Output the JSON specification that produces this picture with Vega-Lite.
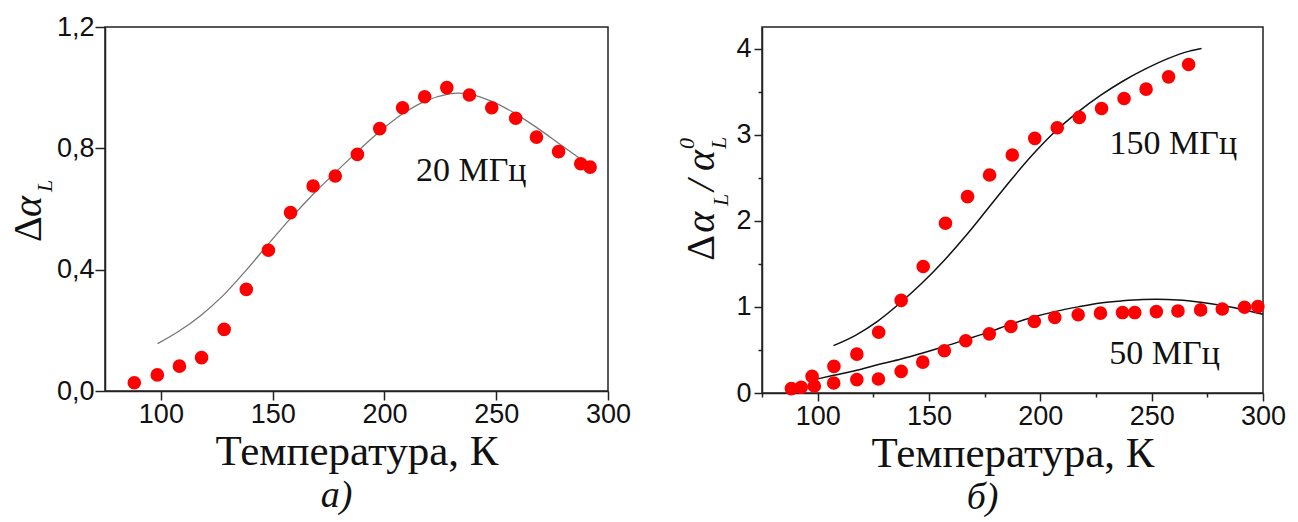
{
  "$schema": "https://vega.github.io/schema/vega-lite/v6.json",
  "autosize": {"type": "pad"},
  "padding": {"left": 8, "top": 12, "right": 0, "bottom": 0},
  "background": "white",
  "spacing": 154,
  "bounds": "flush",
  "config": {
    "view": {"stroke": "#222", "strokeWidth": 1.5},
    "axis": {
      "grid": false,
      "domainColor": "#222", "domainWidth": 1.5,
      "tickColor": "#222", "tickWidth": 1.5,
      "labelFont": "Liberation Sans", "labelFontSize": 27, "labelColor": "#111",
      "labelFlush": false, "labelOverlap": false,
      "titleFont": "Liberation Serif", "titleFontSize": 43, "titleFontWeight": "normal", "titleColor": "#111"
    },
    "title": {"font": "Liberation Serif", "fontStyle": "italic", "fontSize": 38, "fontWeight": "normal", "color": "#111"}
  },
  "datasets": {
    "left_pts": [
      {"T": 88.1, "v": 0.027}, {"T": 98.4, "v": 0.053}, {"T": 108.3, "v": 0.082}, {"T": 118.2, "v": 0.110},
      {"T": 128.3, "v": 0.203}, {"T": 138.2, "v": 0.335}, {"T": 148.1, "v": 0.464}, {"T": 158.0, "v": 0.588},
      {"T": 168.1, "v": 0.676}, {"T": 178.0, "v": 0.709}, {"T": 187.9, "v": 0.780}, {"T": 197.9, "v": 0.865},
      {"T": 208.1, "v": 0.934}, {"T": 218.0, "v": 0.970}, {"T": 227.9, "v": 1.000}, {"T": 238.0, "v": 0.976},
      {"T": 248.0, "v": 0.934}, {"T": 258.7, "v": 0.899}, {"T": 268.0, "v": 0.837}, {"T": 277.9, "v": 0.789},
      {"T": 287.8, "v": 0.749}, {"T": 292.0, "v": 0.738}
    ],
    "left_fit": [
      {"T": 98.5, "v": 0.156}, {"T": 108, "v": 0.197}, {"T": 118, "v": 0.25}, {"T": 128, "v": 0.316},
      {"T": 138, "v": 0.397}, {"T": 148, "v": 0.484}, {"T": 158, "v": 0.569}, {"T": 168, "v": 0.648},
      {"T": 178, "v": 0.72}, {"T": 188, "v": 0.79}, {"T": 198, "v": 0.856}, {"T": 208, "v": 0.913},
      {"T": 218, "v": 0.955}, {"T": 228, "v": 0.978}, {"T": 233, "v": 0.982}, {"T": 238, "v": 0.979},
      {"T": 248, "v": 0.955}, {"T": 258, "v": 0.917}, {"T": 268, "v": 0.869}, {"T": 278, "v": 0.816},
      {"T": 288, "v": 0.763}, {"T": 292, "v": 0.74}
    ],
    "right_pts": [
      {"s": "150", "T": 97.5, "v": 0.193}, {"s": "150", "T": 107.3, "v": 0.309}, {"s": "150", "T": 117.6, "v": 0.451},
      {"s": "150", "T": 127.4, "v": 0.705}, {"s": "150", "T": 137.5, "v": 1.075}, {"s": "150", "T": 147.4, "v": 1.469},
      {"s": "150", "T": 157.4, "v": 1.971}, {"s": "150", "T": 167.3, "v": 2.280}, {"s": "150", "T": 177.2, "v": 2.531},
      {"s": "150", "T": 187.4, "v": 2.763}, {"s": "150", "T": 197.5, "v": 2.957}, {"s": "150", "T": 207.6, "v": 3.080},
      {"s": "150", "T": 217.5, "v": 3.200}, {"s": "150", "T": 227.5, "v": 3.304}, {"s": "150", "T": 237.6, "v": 3.420},
      {"s": "150", "T": 247.5, "v": 3.528}, {"s": "150", "T": 257.6, "v": 3.671}, {"s": "150", "T": 266.6, "v": 3.815},
      {"s": "50", "T": 88.2, "v": 0.051}, {"s": "50", "T": 92.6, "v": 0.066}, {"s": "50", "T": 98.5, "v": 0.081},
      {"s": "50", "T": 107.2, "v": 0.116}, {"s": "50", "T": 117.6, "v": 0.155}, {"s": "50", "T": 127.3, "v": 0.163},
      {"s": "50", "T": 137.5, "v": 0.251}, {"s": "50", "T": 147.2, "v": 0.358}, {"s": "50", "T": 156.9, "v": 0.490},
      {"s": "50", "T": 166.5, "v": 0.606}, {"s": "50", "T": 177.1, "v": 0.687}, {"s": "50", "T": 186.8, "v": 0.772},
      {"s": "50", "T": 197.3, "v": 0.830}, {"s": "50", "T": 206.5, "v": 0.877}, {"s": "50", "T": 217.0, "v": 0.908},
      {"s": "50", "T": 227.0, "v": 0.927}, {"s": "50", "T": 236.9, "v": 0.934}, {"s": "50", "T": 242.4, "v": 0.934},
      {"s": "50", "T": 252.1, "v": 0.945}, {"s": "50", "T": 261.8, "v": 0.953}, {"s": "50", "T": 272.0, "v": 0.965},
      {"s": "50", "T": 281.7, "v": 0.976}, {"s": "50", "T": 291.7, "v": 0.995}, {"s": "50", "T": 297.7, "v": 1.003}
    ],
    "right_fit": [
      {"s": "150", "T": 107.1, "v": 0.55}, {"s": "150", "T": 117, "v": 0.67}, {"s": "150", "T": 127, "v": 0.835},
      {"s": "150", "T": 137, "v": 1.045}, {"s": "150", "T": 147, "v": 1.28}, {"s": "150", "T": 157, "v": 1.545},
      {"s": "150", "T": 167, "v": 1.84}, {"s": "150", "T": 177, "v": 2.16}, {"s": "150", "T": 187, "v": 2.48},
      {"s": "150", "T": 197, "v": 2.78}, {"s": "150", "T": 207, "v": 3.045}, {"s": "150", "T": 217, "v": 3.265},
      {"s": "150", "T": 227, "v": 3.455}, {"s": "150", "T": 237, "v": 3.62}, {"s": "150", "T": 247, "v": 3.76},
      {"s": "150", "T": 257, "v": 3.88}, {"s": "150", "T": 267, "v": 3.97}, {"s": "150", "T": 272.4, "v": 4.0},
      {"s": "50", "T": 98.5, "v": 0.155}, {"s": "50", "T": 107.2, "v": 0.205}, {"s": "50", "T": 117.6, "v": 0.265},
      {"s": "50", "T": 127.3, "v": 0.33}, {"s": "50", "T": 137.5, "v": 0.395}, {"s": "50", "T": 147.2, "v": 0.465},
      {"s": "50", "T": 156.9, "v": 0.54}, {"s": "50", "T": 166.5, "v": 0.62}, {"s": "50", "T": 177.1, "v": 0.71},
      {"s": "50", "T": 186.8, "v": 0.80}, {"s": "50", "T": 197.3, "v": 0.885}, {"s": "50", "T": 206.5, "v": 0.945},
      {"s": "50", "T": 217, "v": 1.0}, {"s": "50", "T": 227, "v": 1.045}, {"s": "50", "T": 236.9, "v": 1.07},
      {"s": "50", "T": 246, "v": 1.085}, {"s": "50", "T": 252.1, "v": 1.088}, {"s": "50", "T": 261.8, "v": 1.08},
      {"s": "50", "T": 272, "v": 1.053}, {"s": "50", "T": 281.7, "v": 1.015}, {"s": "50", "T": 291.7, "v": 0.965},
      {"s": "50", "T": 300, "v": 0.915}
    ]
  },
  "hconcat": [
    {
      "width": 503,
      "height": 364,
      "title": {"text": "а)", "orient": "bottom", "anchor": "middle", "frame": "group", "dx": -20, "offset": 4},
      "encoding": {
        "x": {
          "field": "T", "type": "quantitative",
          "scale": {"domain": [75, 300], "nice": false, "zero": false},
          "axis": {"values": [100, 150, 200, 250, 300], "title": "Температура, К", "tickSize": 9, "labelPadding": 1, "titlePadding": 3}
        },
        "y": {
          "field": "v", "type": "quantitative",
          "scale": {"domain": [0, 1.2], "nice": false},
          "axis": {"values": [0, 0.4, 0.8, 1.2], "labelExpr": "replace(format(datum.value, '.1f'), '.', ',')", "title": null, "tickSize": 10, "labelPadding": 1}
        }
      },
      "layer": [
        {"data": {"name": "left_fit"}, "mark": {"type": "line", "color": "#777", "strokeWidth": 1.3, "interpolate": "monotone"}},
        {"data": {"name": "left_pts"}, "mark": {"type": "circle", "color": "#ff0000", "size": 185, "opacity": 1}},
        {
          "data": {"values": [{"t": "20 МГц", "T": 214.1, "v": 0.692}]},
          "mark": {"type": "text", "font": "Liberation Serif", "fontSize": 34, "align": "left", "baseline": "alphabetic", "color": "#111"},
          "encoding": {"text": {"field": "t"}}
        },
        {
          "data": {"values": [{"t": "Δ", "T": 46.4, "v": 0.491}]},
          "mark": {"type": "text", "font": "Liberation Serif", "fontSize": 40, "angle": 270, "align": "left", "baseline": "alphabetic", "color": "#111"},
          "encoding": {"text": {"field": "t"}}
        },
        {
          "data": {"values": [{"t": "α", "T": 46.4, "v": 0.574}]},
          "mark": {"type": "text", "font": "Liberation Serif", "fontStyle": "italic", "fontSize": 40, "angle": 270, "align": "left", "baseline": "alphabetic", "color": "#111"},
          "encoding": {"text": {"field": "t"}}
        },
        {
          "data": {"values": [{"t": "L", "T": 51.3, "v": 0.656}]},
          "mark": {"type": "text", "font": "Liberation Serif", "fontStyle": "italic", "fontSize": 22, "angle": 270, "align": "left", "baseline": "alphabetic", "color": "#111"},
          "encoding": {"text": {"field": "t"}}
        }
      ]
    },
    {
      "width": 501,
      "height": 366,
      "title": {"text": "б)", "orient": "bottom", "anchor": "middle", "frame": "group", "dx": -30, "offset": 4},
      "encoding": {
        "x": {
          "field": "T", "type": "quantitative",
          "scale": {"domain": [75, 300], "nice": false, "zero": false},
          "axis": {
            "values": [75, 100, 125, 150, 175, 200, 225, 250, 275, 300],
            "labelExpr": "datum.value % 50 === 0 ? format(datum.value, 'd') : ''",
            "tickSize": {"condition": {"test": "datum.value % 50 !== 0", "value": 4}, "value": 8},
            "title": "Температура, К", "labelPadding": 2, "titlePadding": 3
          }
        },
        "y": {
          "field": "v", "type": "quantitative",
          "scale": {"domain": [0, 4.25], "nice": false},
          "axis": {
            "values": [0, 0.5, 1, 1.5, 2, 2.5, 3, 3.5, 4],
            "labelExpr": "datum.value % 1 === 0 ? format(datum.value, 'd') : ''",
            "tickSize": {"condition": {"test": "datum.value % 1 !== 0", "value": 4}, "value": 8},
            "title": null, "labelPadding": 3
          }
        }
      },
      "layer": [
        {"data": {"name": "right_fit"}, "mark": {"type": "line", "color": "#111", "strokeWidth": 1.5, "interpolate": "monotone"}, "encoding": {"detail": {"field": "s"}}},
        {"data": {"name": "right_pts"}, "mark": {"type": "circle", "color": "#ff0000", "size": 185, "opacity": 1}},
        {
          "data": {"values": [{"t": "150 МГц", "T": 231.1, "v": 2.778}, {"t": "50 МГц", "T": 231.0, "v": 0.336}]},
          "mark": {"type": "text", "font": "Liberation Serif", "fontSize": 34, "align": "left", "baseline": "alphabetic", "color": "#111"},
          "encoding": {"text": {"field": "t"}}
        },
        {
          "data": {"values": [{"t": "Δ", "T": 53.6, "v": 1.536}]},
          "mark": {"type": "text", "font": "Liberation Serif", "fontSize": 40, "angle": 270, "align": "left", "baseline": "alphabetic", "color": "#111"},
          "encoding": {"text": {"field": "t"}}
        },
        {
          "data": {"values": [{"t": "α", "T": 53.6, "v": 1.86}, {"t": "/", "T": 53.6, "v": 2.346}, {"t": "α", "T": 53.6, "v": 2.578}]},
          "mark": {"type": "text", "font": "Liberation Serif", "fontStyle": "italic", "fontSize": 40, "angle": 270, "align": "left", "baseline": "alphabetic", "color": "#111"},
          "encoding": {"text": {"field": "t"}}
        },
        {
          "data": {"values": [{"t": "L", "T": 59.6, "v": 2.172}, {"t": "0", "T": 44.4, "v": 2.832}, {"t": "L", "T": 58.8, "v": 2.832}]},
          "mark": {"type": "text", "font": "Liberation Serif", "fontStyle": "italic", "fontSize": 22, "angle": 270, "align": "left", "baseline": "alphabetic", "color": "#111"},
          "encoding": {"text": {"field": "t"}}
        }
      ]
    }
  ]
}
